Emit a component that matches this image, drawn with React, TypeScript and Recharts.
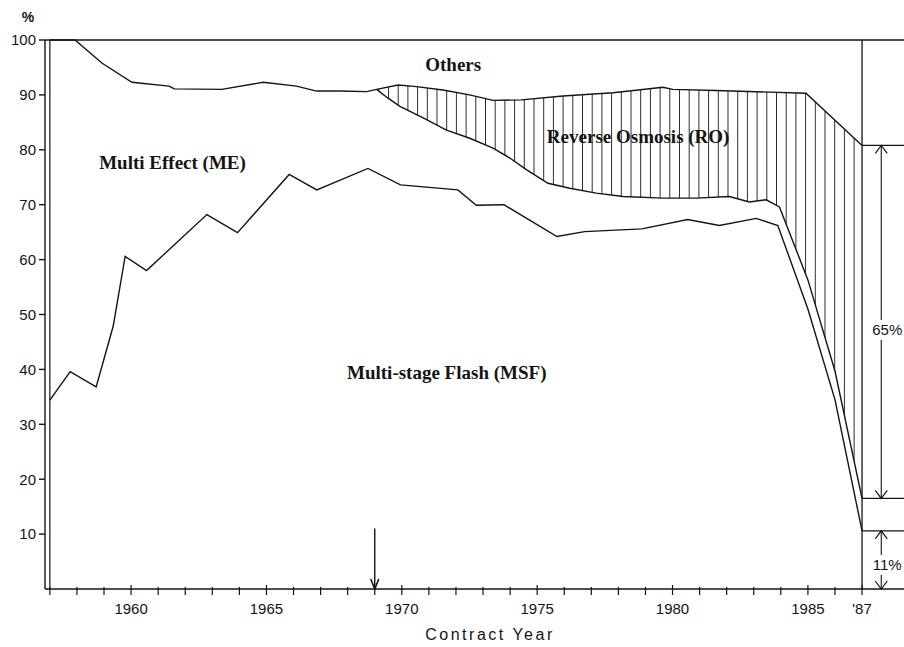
import { ComposedChart, Line, Area, XAxis, YAxis, ReferenceLine, ReferenceDot } from "recharts";

const SANS = '"Liberation Sans", Arial, Helvetica, sans-serif';
const SERIF = '"Liberation Serif", "Times New Roman", serif';
const INK = "#141414";

// [contract year, cumulative share %]
const msfTop: [number, number][] = [
  [1957.0, 34.4], [1957.75, 39.6], [1958.71, 36.8], [1959.34, 47.9], [1959.78, 60.6],
  [1960.57, 58.0], [1962.8, 68.2], [1963.93, 64.9], [1965.84, 75.5], [1966.86, 72.7],
  [1968.75, 76.6], [1969.95, 73.6], [1972.07, 72.7], [1972.75, 69.9], [1973.77, 70.0],
  [1975.73, 64.2], [1976.75, 65.1], [1978.87, 65.6], [1980.56, 67.3], [1981.73, 66.2],
  [1983.09, 67.5], [1983.89, 66.2], [1985.0, 51.0], [1986.0, 34.5], [1987.0, 10.6],
];

const meTop: [number, number][] = [
  [1969.07, 91.0], [1969.49, 89.4], [1969.93, 87.9], [1970.79, 85.8], [1971.65, 83.6],
  [1972.51, 82.1], [1973.37, 80.3], [1973.99, 78.5], [1974.6, 76.4], [1975.4, 73.9],
  [1976.2, 73.0], [1977.18, 72.1], [1978.17, 71.5], [1979.64, 71.2], [1980.87, 71.2],
  [1982.1, 71.5], [1982.84, 70.5], [1983.46, 70.9], [1983.95, 69.6], [1985.0, 56.3],
  [1986.0, 39.7], [1987.0, 16.5],
];

const othersBase: [number, number][] = [
  [1957.0, 100], [1957.93, 100], [1958.92, 95.8], [1960.03, 92.3], [1961.4, 91.6],
  [1961.6, 91.1], [1963.35, 91.0], [1964.88, 92.3], [1966.11, 91.6], [1966.85, 90.7],
  [1967.71, 90.7], [1968.7, 90.6], [1969.07, 91.0], [1969.86, 91.8], [1970.54, 91.5],
  [1971.52, 90.9], [1972.5, 90.0], [1973.37, 89.0], [1974.42, 89.1], [1975.95, 89.8],
  [1977.8, 90.4], [1979.64, 91.4], [1980.01, 91.0], [1981.6, 90.8], [1984.93, 90.3],
  [1987.0, 80.8],
];

const xTicks = [
  1957, 1958, 1959, 1960, 1961, 1962, 1963, 1964, 1965, 1966, 1967, 1968, 1969, 1970, 1971, 1972,
  1973, 1974, 1975, 1976, 1977, 1978, 1979, 1980, 1981, 1982, 1983, 1984, 1985, 1986, 1987,
];
const yearLabels: Record<number, string> = {
  1960: "1960", 1965: "1965", 1970: "1970", 1975: "1975", 1980: "1980", 1985: "1985", 1987: "'87",
};
const yTicks = [10, 20, 30, 40, 50, 60, 70, 80, 90, 100];

const roShareText = "65%";
const msfShareText = "11%";
const firstRoYear = 1969;

const X_MIN = 1956.82;
const X_MAX = 1988.55;
const BRACKET_X = 1987.71;
const ARROW_TOP = 11;

const regionLabels = [
  { text: "Others", x: 1971.9, y: 95.6 },
  { text: "Reverse Osmosis (RO)", x: 1978.73, y: 82.4 },
  { text: "Multi Effect (ME)", x: 1961.53, y: 77.6 },
  { text: "Multi-stage Flash (MSF)", x: 1971.66, y: 39.4 },
];

const toRows = (pts: [number, number][]) => pts.map(([year, value]) => ({ year, value }));

const YearTick = (props: any) => {
  const { x, y, payload } = props;
  const label = yearLabels[payload.value];
  return (
    <g>
      <line x1={x} x2={x} y1={y - (label ? 4 : 2)} y2={y + 6} stroke={INK} strokeWidth={1.2} />
      {label ? (
        <text x={x} y={y + 25} textAnchor="middle" fontSize={15} fontFamily={SANS} fill={INK}>
          {label}
        </text>
      ) : null}
    </g>
  );
};

const RegionLabel = (props: any) => {
  const { viewBox, text } = props;
  return (
    <text
      x={viewBox.x + viewBox.width / 2}
      y={viewBox.y + viewBox.height / 2}
      textAnchor="middle"
      dominantBaseline="central"
      fontFamily={SERIF}
      fontWeight="bold"
      fontSize={19}
      fill={INK}
    >
      {text}
    </text>
  );
};

const Bracket = (props: any) => {
  const { x1, y1, y2, text, shift } = props;
  const top = Math.min(y1, y2);
  const bot = Math.max(y1, y2);
  const mid = (top + bot) / 2 + shift;
  return (
    <g>
      <line x1={x1} x2={x1} y1={top} y2={bot} stroke={INK} strokeWidth={1.1} />
      <path d={`M${x1 - 6} ${top + 8} L${x1} ${top} L${x1 + 6} ${top + 8}`} fill="none" stroke={INK} strokeWidth={1.2} />
      <path d={`M${x1 - 6} ${bot - 8} L${x1} ${bot} L${x1 + 6} ${bot - 8}`} fill="none" stroke={INK} strokeWidth={1.2} />
      <rect x={x1 - 10} y={mid - 10} width={34} height={20} fill="#fff" />
      <text x={x1 + 6} y={mid} textAnchor="middle" dominantBaseline="central" fontSize={15} fontFamily={SANS} fill={INK}>
        {text}
      </text>
    </g>
  );
};

const DownArrow = (props: any) => {
  const { x1, y1, y2 } = props;
  const top = Math.min(y1, y2);
  const bot = Math.max(y1, y2);
  return (
    <g>
      <line x1={x1} x2={x1} y1={top} y2={bot} stroke={INK} strokeWidth={1.4} />
      <path d={`M${x1 - 4} ${bot - 10} L${x1} ${bot} L${x1 + 4} ${bot - 10}`} fill="none" stroke={INK} strokeWidth={1.6} />
    </g>
  );
};

const UnitLabel = (props: any) => {
  const { viewBox } = props;
  return (
    <text x={viewBox.x + 28} y={viewBox.y - 18} textAnchor="middle" fontSize={14} fontWeight="bold" fontFamily={SANS} fill={INK}>
      %
    </text>
  );
};

const AxisTitle = (props: any) => {
  const { viewBox } = props;
  return (
    <text x={viewBox.x + 445} y={viewBox.y + 51} textAnchor="middle" fontSize={16} letterSpacing={2.5} fontFamily={SANS} fill={INK}>
      Contract Year
    </text>
  );
};

export default function App() {
  const msfRows = toRows(msfTop);
  const meRows = toRows(meTop);
  const othersRows = toRows(othersBase);
  const roRows = othersRows.filter((d) => d.year >= meTop[0][0]);
  const endYear = msfTop[msfTop.length - 1][0];
  const roEnd = othersBase[othersBase.length - 1][1];
  const meEnd = meTop[meTop.length - 1][1];
  const msfEnd = msfTop[msfTop.length - 1][1];

  return (
    <div style={{ position: "absolute", left: 0, top: 0, width: 904, height: 647, background: "#fff" }}>
      <ComposedChart width={904} height={647} margin={{ top: 40, right: 0, bottom: 0, left: 0 }}>
        <defs>
          <pattern id="roHatch" patternUnits="userSpaceOnUse" width={9.7} height={10}>
            <line x1={0.5} x2={0.5} y1={0} y2={10} stroke="#2a2a2a" strokeWidth={1} />
          </pattern>
        </defs>
        <XAxis
          type="number"
          dataKey="year"
          domain={[X_MIN, X_MAX]}
          allowDataOverflow
          ticks={xTicks}
          interval={0}
          height={58}
          tickSize={0}
          tickMargin={0}
          tickLine={false}
          axisLine={{ stroke: INK, strokeWidth: 1.4 }}
          tick={<YearTick />}
          label={<AxisTitle />}
        />
        <YAxis
          type="number"
          domain={[0, 100]}
          ticks={yTicks}
          interval={0}
          width={45}
          tickSize={6}
          tickMargin={3}
          axisLine={{ stroke: INK, strokeWidth: 1.4 }}
          tickLine={{ stroke: INK, strokeWidth: 1.4 }}
          tick={{ fontSize: 15, fontFamily: SANS, fill: INK }}
          label={<UnitLabel />}
        />
        <Area data={roRows} dataKey="value" type="linear" stroke="none" fill="url(#roHatch)" fillOpacity={1} isAnimationActive={false} />
        <Area data={meRows} dataKey="value" type="linear" stroke="none" fill="#fff" fillOpacity={1} isAnimationActive={false} />
        <ReferenceLine y={100} stroke={INK} strokeWidth={1.4} />
        <ReferenceLine x={msfTop[0][0]} stroke={INK} strokeWidth={1.2} />
        <ReferenceLine x={endYear} stroke={INK} strokeWidth={1.3} />
        <Line data={othersRows} dataKey="value" type="linear" stroke={INK} strokeWidth={1.4} dot={false} activeDot={false} isAnimationActive={false} />
        <Line data={meRows} dataKey="value" type="linear" stroke={INK} strokeWidth={1.4} dot={false} activeDot={false} isAnimationActive={false} />
        <Line data={msfRows} dataKey="value" type="linear" stroke={INK} strokeWidth={1.4} dot={false} activeDot={false} isAnimationActive={false} />
        <ReferenceLine segment={[{ x: endYear, y: roEnd }, { x: X_MAX, y: roEnd }]} stroke={INK} strokeWidth={1.3} />
        <ReferenceLine segment={[{ x: endYear, y: meEnd }, { x: X_MAX, y: meEnd }]} stroke={INK} strokeWidth={1.3} />
        <ReferenceLine segment={[{ x: endYear, y: msfEnd }, { x: X_MAX, y: msfEnd }]} stroke={INK} strokeWidth={1.3} />
        <ReferenceLine
          segment={[{ x: BRACKET_X, y: roEnd }, { x: BRACKET_X, y: meEnd }]}
          shape={(p: any) => <Bracket {...p} text={roShareText} shift={8} />}
        />
        <ReferenceLine
          segment={[{ x: BRACKET_X, y: msfEnd }, { x: BRACKET_X, y: 0 }]}
          shape={(p: any) => <Bracket {...p} text={msfShareText} shift={5} />}
        />
        <ReferenceLine
          segment={[{ x: firstRoYear, y: ARROW_TOP }, { x: firstRoYear, y: 0 }]}
          shape={(p: any) => <DownArrow {...p} />}
        />
        {regionLabels.map((r) => (
          <ReferenceDot key={r.text} x={r.x} y={r.y} r={0} fill="none" stroke="none" label={<RegionLabel text={r.text} />} />
        ))}
      </ComposedChart>
    </div>
  );
}
